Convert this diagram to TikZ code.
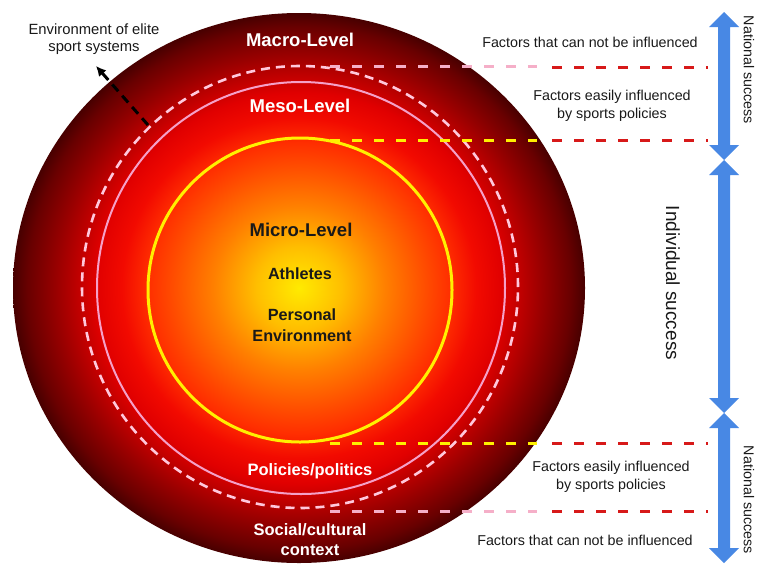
\documentclass[tikz,border=0pt]{standalone}
\usepackage{fontspec}
\setmainfont{Liberation Sans}
\usetikzlibrary{arrows.meta}
\definecolor{txt}{RGB}{25,25,25}
\definecolor{dred}{RGB}{215,25,25}
\definecolor{lpink}{RGB}{245,175,200}
\definecolor{dpink}{RGB}{255,200,220}
\definecolor{cpink}{RGB}{245,160,200}
\definecolor{cyel}{RGB}{255,240,0}
\definecolor{ablue}{RGB}{72,136,228}
\pgfdeclareradialshading{levelball}{\pgfpoint{0bp}{0bp}}{%
 rgb(0bp)=(1,0.92,0);
 rgb(3.75bp)=(1,0.745,0);
 rgb(7.5bp)=(1,0.5,0);
 rgb(11.25bp)=(1,0.29,0);
 rgb(13.25bp)=(1,0.18,0);
 rgb(15.5bp)=(0.95,0.04,0);
 rgb(17.75bp)=(0.88,0,0);
 rgb(19bp)=(0.78,0,0);
 rgb(21.25bp)=(0.6,0,0);
 rgb(23.75bp)=(0.41,0,0);
 rgb(25bp)=(0.28,0,0);
 rgb(50bp)=(0.28,0,0)}
\newcommand{\blueDArrow}[3]{% x, top tip, bottom tip
  \fill[ablue] (#1,#2) -- ++(15,15) -- ++(-9,0) -- (#1+6,#3-15) -- ++(9,0) -- (#1,#3)
   -- ++(-15,-15) -- ++(9,0) -- (#1-6,#2+15) -- ++(-9,0) -- cycle;}
\begin{document}
\begin{tikzpicture}[x=1pt,y=-1pt,
  sidetxt/.style={font=\fontsize{14.3}{18}\selectfont, text=txt, align=center, inner sep=0pt},
  levw/.style={font=\bfseries\fontsize{18.5}{21}\selectfont, text=white, align=center, inner sep=0pt},
  levb/.style={font=\bfseries\fontsize{18.5}{21}\selectfont, text=txt, align=center, inner sep=0pt},
  subb/.style={font=\bfseries\fontsize{16.2}{21}\selectfont, text=txt, align=center, inner sep=0pt},
  subw/.style={font=\bfseries\fontsize{16.5}{20}\selectfont, text=white, align=center, inner sep=0pt},
  reddash/.style={draw=dred, line width=3pt, dash pattern=on 10pt off 12pt},
  innerdash/.style={line width=3pt, dash pattern=on 10pt off 12pt}
]
\useasboundingbox (0,0) rectangle (757,563);
% level circles
\shade[shading=levelball] (299,288) ellipse [x radius=286pt, y radius=275pt];
\draw[dpink, line width=2.6pt, dash pattern=on 9pt off 6pt] (300,287) ellipse [x radius=218pt, y radius=221pt];
\draw[cpink, line width=2pt] (301,288) ellipse [x radius=204pt, y radius=206pt];
\draw[cyel, line width=3pt] (300,290) circle [radius=152pt];
% horizontal separators
\coordinate (p1s) at (330,66);  \coordinate (p1e) at (537,66);
\coordinate (y1s) at (330,140); \coordinate (y1e) at (537,140);
\coordinate (y2s) at (330,443); \coordinate (y2e) at (537,443);
\coordinate (p2s) at (330,511); \coordinate (p2e) at (537,511);
\coordinate (r1s) at (552,67);  \coordinate (r1e) at (708,67);
\coordinate (r2s) at (552,140); \coordinate (r2e) at (708,140);
\coordinate (r3s) at (552,443); \coordinate (r3e) at (708,443);
\coordinate (r4s) at (552,511); \coordinate (r4e) at (708,511);
\draw[innerdash, lpink] (p1s) -- (p1e);
\draw[innerdash, cyel] (y1s) -- (y1e);
\draw[innerdash, cyel] (y2s) -- (y2e);
\draw[innerdash, lpink] (p2s) -- (p2e);
\draw[reddash] (r1s) -- (r1e);
\draw[reddash] (r2s) -- (r2e);
\draw[reddash] (r3s) -- (r3e);
\draw[reddash] (r4s) -- (r4e);
% level labels
\node[levw] (macro) at (300,40) {Macro-Level};
\node[levw] (meso) at (300,106) {Meso-Level};
\node[levb] (micro) at (301,230) {Micro-Level};
\node[subb] (ath) at (300,274) {Athletes};
\node[subb] (pers) at (302,325) {Personal\\Environment};
\node[subw] (pol) at (310,471) {Policies/politics};
\node[subw] (soc) at (310,540) {Social/cultural\\context};
% side texts
\node[sidetxt] (f1) at (590,42) {Factors that can not be influenced};
\node[sidetxt] (f2) at (612,106) {Factors easily influenced\\by sports policies};
\node[sidetxt] (f3) at (611,477) {Factors easily influenced\\by sports policies};
\node[sidetxt] (f4) at (585,540) {Factors that can not be influenced};
\node[sidetxt, font=\fontsize{14.8}{17}\selectfont] (env) at (94,39) {Environment of elite\\sport systems};
% environment arrow
\coordinate (envfrom) at (148,125);
\coordinate (envto) at (96,66);
\draw[black, line width=3pt, dash pattern=on 9pt off 6pt, -{Latex[length=10pt,width=10pt]}] (envfrom) -- (envto);
% blue arrows
\blueDArrow{724}{12}{160}
\blueDArrow{724}{160}{413}
\blueDArrow{724}{413}{563}
\node[sidetxt, rotate=-90] (nat1) at (749,70) {National success};
\node[sidetxt, rotate=-90] (nat2) at (749,500) {National success};
\node[sidetxt, font=\fontsize{19}{22}\selectfont, rotate=-90] (ind) at (673,283) {Individual success};
\end{tikzpicture}
\end{document}
